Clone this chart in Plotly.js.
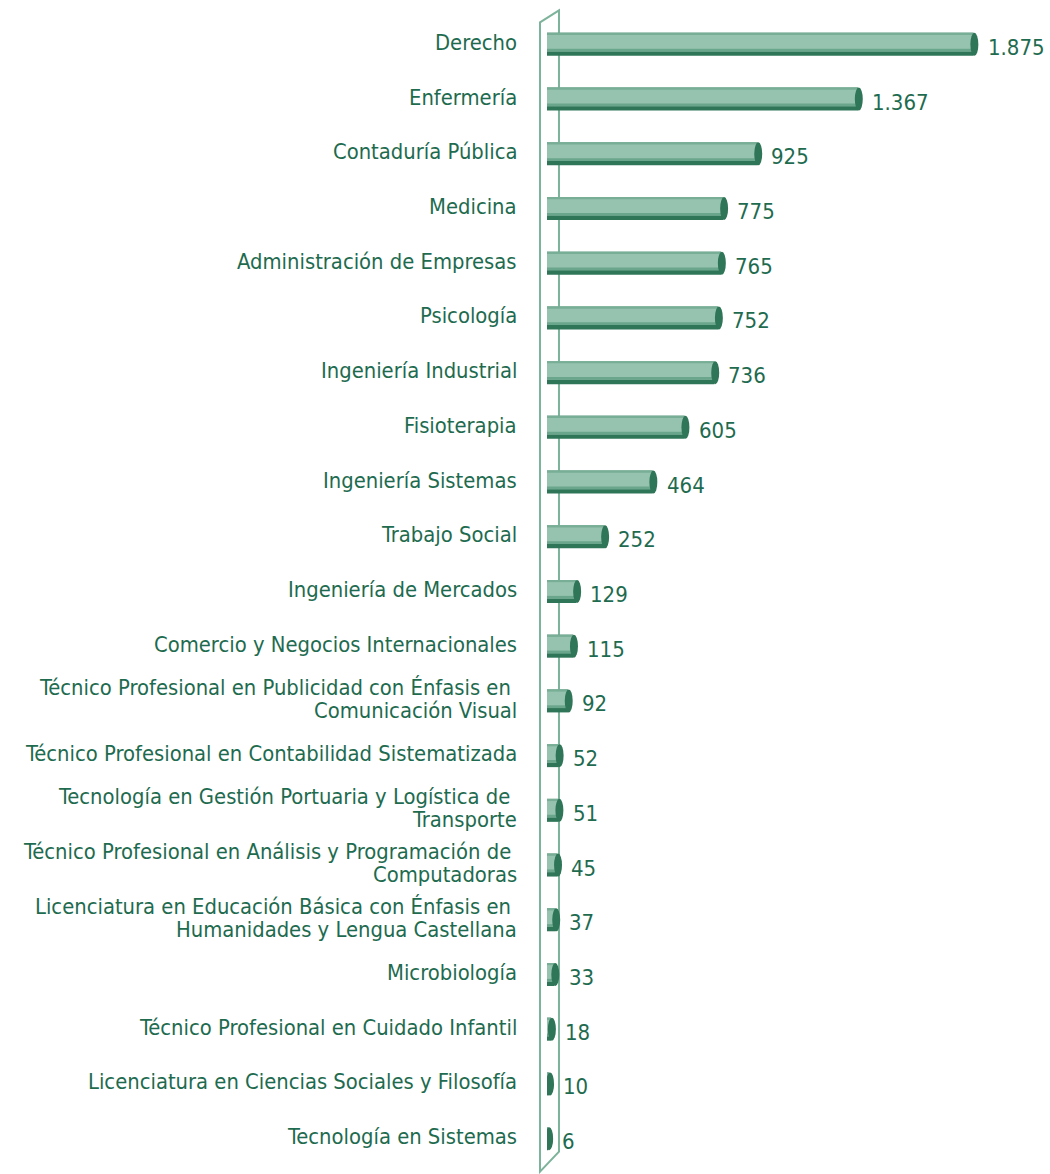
<!DOCTYPE html>
<html>
<head>
<meta charset="utf-8">
<script src="https://cdn.plot.ly/plotly-3.0.1.min.js"></script>
<style>html,body{margin:0;padding:0;background:#fff;}#chart{width:1050px;height:1174px;}</style>
</head>
<body>
<div id="chart"></div>
<script>
const categories = [
  "Derecho",
  "Enfermería",
  "Contaduría Pública",
  "Medicina",
  "Administración de Empresas",
  "Psicología",
  "Ingeniería Industrial",
  "Fisioterapia",
  "Ingeniería Sistemas",
  "Trabajo Social",
  "Ingeniería de Mercados",
  "Comercio y Negocios Internacionales",
  "Técnico Profesional en Publicidad con Énfasis en <br>Comunicación Visual",
  "Técnico Profesional en Contabilidad Sistematizada",
  "Tecnología en Gestión Portuaria y Logística de <br>Transporte",
  "Técnico Profesional en Análisis y Programación de <br>Computadoras",
  "Licenciatura en Educación Básica con Énfasis en <br>Humanidades y Lengua Castellana",
  "Microbiología",
  "Técnico Profesional en Cuidado Infantil",
  "Licenciatura en Ciencias Sociales y Filosofía",
  "Tecnología en Sistemas"
];
const values = [1875, 1367, 925, 775, 765, 752, 736, 605, 464, 252, 129, 115, 92, 52, 51, 45, 37, 33, 18, 10, 6];

const TXT = '#1e6b4f';
const FONT = '"DejaVu Sans Condensed", "Liberation Sans Narrow", sans-serif';

function fmt(v){ return String(v).replace(/\B(?=(\d{3})+(?!\d))/g, '.'); }

const darkBar = {
  type: 'bar', orientation: 'h', y: categories, x: values,
  width: 0.42, marker: {color: '#2f7658', line: {width: 0}},
  hoverinfo: 'skip', showlegend: false
};
const lightBar = {
  type: 'bar', orientation: 'h', y: categories, x: values,
  width: 0.34, offset: -0.21, marker: {color: '#96c3af', line: {width: 0}},
  hoverinfo: 'skip', showlegend: false
};
const midBar = {
  type: 'bar', orientation: 'h', y: categories, x: values,
  width: 0.05, offset: 0.08, marker: {color: '#6aa68b', line: {width: 0}},
  hoverinfo: 'skip', showlegend: false
};
const hiBar = {
  type: 'bar', orientation: 'h', y: categories, x: values,
  width: 0.04, offset: -0.21, marker: {color: '#78ae96', line: {width: 0}},
  hoverinfo: 'skip', showlegend: false
};

const shapes = [];
// wall (3D-like frame)
shapes.push({type: 'path', xref: 'paper', yref: 'paper', layer: 'below',
  path: 'M -0.0142 0.9953 L 0.0243 1.0058 L 0.0243 0.0125 L -0.0142 -0.0049 Z',
  line: {color: '#7db39b', width: 2}, fillcolor: 'rgba(0,0,0,0)'});
// bar end caps
categories.forEach(function(c, i){
  shapes.push({type: 'circle', xref: 'x', yref: 'y', layer: 'above',
    x0: values[i] - 14, x1: values[i] + 21, y0: i - 0.21, y1: i + 0.21,
    fillcolor: '#2f7557', line: {width: 0}});
});

const annotations = [];
categories.forEach(function(c, i){
  const lines = c.split('<br>');
  const n = lines.length;
  lines.forEach(function(t, j){
    annotations.push({xref: 'paper', yref: 'y', x: 0, y: i, xanchor: 'right', yanchor: 'middle',
      xshift: -28, yshift: ((n - 1) / 2 - j) * 23 + 2, text: t, showarrow: false,
      font: {family: FONT, size: 21.8, color: TXT}});
  });
  annotations.push({xref: 'x', yref: 'y', x: values[i], y: i, xanchor: 'left', yanchor: 'middle',
    xshift: 12, yshift: -3, text: fmt(values[i]), showarrow: false,
    font: {family: FONT, size: 22, color: TXT}});
});

const layout = {
  width: 1050, height: 1174,
  margin: {l: 547, r: 10, t: 17, b: 8},
  paper_bgcolor: '#ffffff', plot_bgcolor: 'rgba(0,0,0,0)',
  barmode: 'overlay',
  separators: ',.',
  xaxis: {range: [0, 2167], showgrid: false, zeroline: false, showticklabels: false, showline: false, ticks: ''},
  yaxis: {type: 'category', categoryorder: 'array', categoryarray: categories,
    range: [20.5, -0.5], showgrid: false, zeroline: false, showticklabels: false, showline: false, ticks: ''},
  shapes: shapes,
  annotations: annotations
};

Plotly.newPlot('chart', [darkBar, lightBar, midBar, hiBar], layout, {displayModeBar: false, staticPlot: true});
</script>
</body>
</html>
